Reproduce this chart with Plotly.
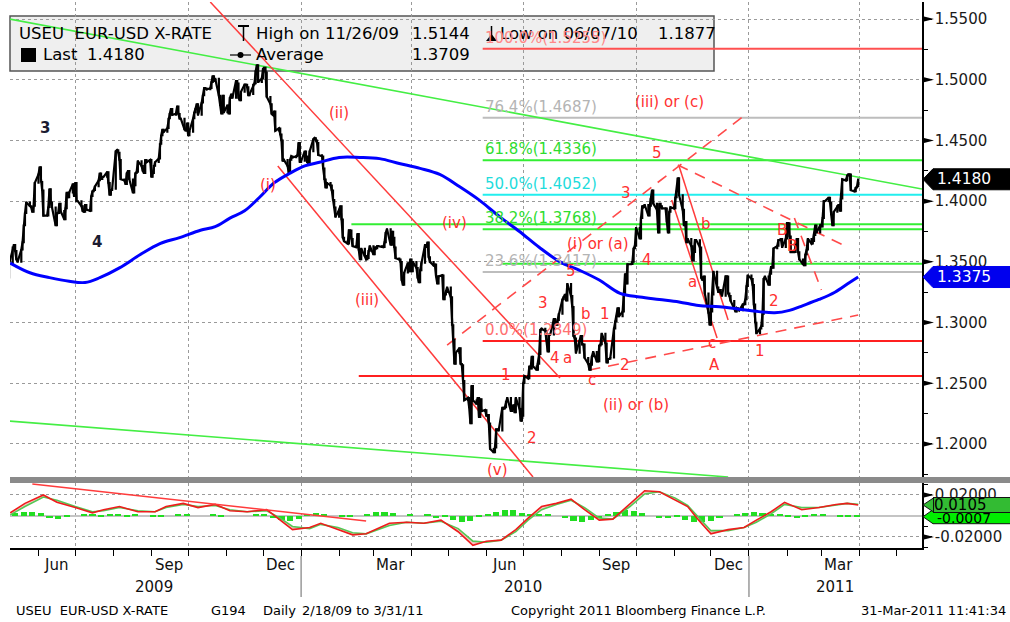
import pandas as pd
import plotly.graph_objects as go

# ---------------------------------------------------------------- data
first_monday = "2009-05-04"
weekly_closes = [
    [1.3330, 1.3360, 1.3310, 1.3370, 1.3480],
    [1.3620, 1.3640, 1.3590, 1.3520, 1.3500],
    [1.3600, 1.3660, 1.3800, 1.3900, 1.3990],
    [1.3960, 1.3950, 1.3910, 1.3960, 1.4150],
    [1.4220, 1.4280, 1.4160, 1.4090, 1.3880],
    [1.3880, 1.3950, 1.4100, 1.3990, 1.3950],
    [1.3800, 1.3900, 1.3900, 1.3980, 1.3920],
    [1.3850, 1.3940, 1.4070, 1.4030, 1.4070],
    [1.4140, 1.4040, 1.4150, 1.4000, 1.4000],
    [1.3960, 1.3920, 1.3910, 1.3970, 1.3930],
    [1.3920, 1.4040, 1.4080, 1.4090, 1.4120],
    [1.4170, 1.4230, 1.4180, 1.4200, 1.4200],
    [1.4240, 1.4150, 1.4050, 1.4090, 1.4100],
    [1.4410, 1.4420, 1.4400, 1.4340, 1.4180],
    [1.4170, 1.4140, 1.4230, 1.4250, 1.4180],
    [1.4070, 1.4130, 1.4230, 1.4240, 1.4330],
    [1.4290, 1.4250, 1.4230, 1.4340, 1.4320],
    [1.4340, 1.4200, 1.4230, 1.4290, 1.4320],
    [1.4350, 1.4470, 1.4540, 1.4590, 1.4570],
    [1.4600, 1.4680, 1.4720, 1.4760, 1.4710],
    [1.4720, 1.4780, 1.4720, 1.4680, 1.4680],
    [1.4590, 1.4580, 1.4640, 1.4540, 1.4570],
    [1.4680, 1.4730, 1.4760, 1.4800, 1.4710],
    [1.4810, 1.4870, 1.4930, 1.4930, 1.4920],
    [1.4930, 1.4980, 1.5030, 1.4990, 1.5010],
    [1.4870, 1.4790, 1.4720, 1.4870, 1.4730],
    [1.4790, 1.4720, 1.4850, 1.4880, 1.4850],
    [1.4990, 1.4970, 1.4850, 1.4830, 1.4900],
    [1.4960, 1.4960, 1.4940, 1.4870, 1.4880],
    [1.4960, 1.4970, 1.5070, 1.5120, 1.4980],
    [1.5010, 1.5090, 1.5100, 1.5060, 1.4860],
    [1.4800, 1.4720, 1.4710, 1.4740, 1.4580],
    [1.4600, 1.4550, 1.4500, 1.4330, 1.4340],
    [1.4290, 1.4230, 1.4340, 1.4370, 1.4360],
    [1.4370, 1.4380, 1.4480, 1.4320, 1.4330],
    [1.4410, 1.4370, 1.4320, 1.4310, 1.4410],
    [1.4510, 1.4520, 1.4500, 1.4480, 1.4380],
    [1.4370, 1.4270, 1.4180, 1.4110, 1.4150],
    [1.4130, 1.4090, 1.4010, 1.3950, 1.3870],
    [1.3930, 1.3960, 1.3850, 1.3700, 1.3670],
    [1.3650, 1.3760, 1.3760, 1.3690, 1.3630],
    [1.3620, 1.3730, 1.3600, 1.3520, 1.3610],
    [1.3550, 1.3520, 1.3530, 1.3590, 1.3630],
    [1.3560, 1.3620, 1.3610, 1.3630, 1.3630],
    [1.3620, 1.3620, 1.3660, 1.3740, 1.3770],
    [1.3640, 1.3750, 1.3700, 1.3620, 1.3530],
    [1.3520, 1.3500, 1.3350, 1.3310, 1.3410],
    [1.3490, 1.3420, 1.3520, 1.3420, 1.3500],
    [1.3450, 1.3370, 1.3330, 1.3430, 1.3490],
    [1.3640, 1.3620, 1.3660, 1.3540, 1.3500],
    [1.3470, 1.3480, 1.3380, 1.3320, 1.3380],
    [1.3390, 1.3190, 1.3230, 1.3250, 1.3290],
    [1.3210, 1.2980, 1.2860, 1.2660, 1.2750],
    [1.2790, 1.2660, 1.2650, 1.2520, 1.2360],
    [1.2380, 1.2300, 1.2170, 1.2480, 1.2360],
    [1.2330, 1.2380, 1.2220, 1.2370, 1.2270],
    [1.2280, 1.2230, 1.2240, 1.2170, 1.1960],
    [1.1930, 1.1970, 1.2120, 1.2120, 1.2110],
    [1.2300, 1.2290, 1.2300, 1.2350, 1.2380],
    [1.2270, 1.2300, 1.2320, 1.2260, 1.2380],
    [1.2290, 1.2190, 1.2230, 1.2500, 1.2560],
    [1.2540, 1.2640, 1.2620, 1.2720, 1.2640],
    [1.2610, 1.2660, 1.2740, 1.2940, 1.2950],
    [1.2930, 1.2860, 1.2760, 1.2900, 1.2900],
    [1.3030, 1.3000, 1.2980, 1.3020, 1.3070],
    [1.3190, 1.3210, 1.3230, 1.3180, 1.3320],
    [1.3220, 1.3130, 1.2890, 1.2870, 1.2750],
    [1.2850, 1.2890, 1.2820, 1.2820, 1.2710],
    [1.2660, 1.2610, 1.2650, 1.2720, 1.2760],
    [1.2680, 1.2680, 1.2810, 1.2820, 1.2910],
    [1.2830, 1.2670, 1.2700, 1.2700, 1.2710],
    [1.2950, 1.3010, 1.3050, 1.3120, 1.3050],
    [1.3090, 1.3230, 1.3400, 1.3320, 1.3480],
    [1.3480, 1.3500, 1.3610, 1.3630, 1.3780],
    [1.3690, 1.3860, 1.3960, 1.3950, 1.3970],
    [1.3880, 1.3960, 1.4020, 1.4090, 1.3980],
    [1.3930, 1.3740, 1.3980, 1.3960, 1.3940],
    [1.3940, 1.3830, 1.3740, 1.3910, 1.3950],
    [1.3940, 1.4030, 1.4080, 1.4190, 1.4050],
    [1.3930, 1.3800, 1.3830, 1.3660, 1.3690],
    [1.3630, 1.3510, 1.3580, 1.3680, 1.3680],
    [1.3620, 1.3370, 1.3350, 1.3380, 1.3240],
    [1.3080, 1.2980, 1.3090, 1.3230, 1.3420],
    [1.3290, 1.3250, 1.3270, 1.3240, 1.3220],
    [1.3380, 1.3380, 1.3240, 1.3220, 1.3180],
    [1.3120, 1.3090, 1.3120, 1.3110, 1.3100],
    [1.3150, 1.3150, 1.3190, 1.3300, 1.3390],
    [1.3360, 1.3310, 1.3150, 1.3000, 1.2910],
    [1.2950, 1.2970, 1.3070, 1.3360, 1.3380],
    [1.3310, 1.3400, 1.3460, 1.3450, 1.3610],
    [1.3630, 1.3680, 1.3680, 1.3690, 1.3620],
    [1.3690, 1.3820, 1.3820, 1.3710, 1.3580],
    [1.3580, 1.3650, 1.3690, 1.3580, 1.3520],
    [1.3480, 1.3470, 1.3560, 1.3600, 1.3690],
    [1.3650, 1.3670, 1.3720, 1.3800, 1.3740],
    [1.3800, 1.3790, 1.3860, 1.4000, 1.4000],
    [1.4030, 1.3990, 1.3890, 1.3800, 1.3910],
    [1.3960, 1.3970, 1.3920, 1.4020, 1.4180],
    [1.4170, 1.4210, 1.4220, 1.4220, 1.4090],
    [1.4080, 1.4110, 1.4120, 1.4180],
]

ma_dates = ["2009-05-09", "2009-05-25", "2009-06-10", "2009-06-26", "2009-07-09",
             "2009-07-21", "2009-08-06", "2009-08-23", "2009-09-08", "2009-09-24",
             "2009-10-11", "2009-10-23", "2009-11-04", "2009-11-16", "2009-11-28",
             "2009-12-10", "2009-12-23", "2010-01-04", "2010-01-16", "2010-02-01",
             "2010-02-18", "2010-03-06", "2010-03-22", "2010-04-08", "2010-04-24",
             "2010-05-10", "2010-05-26", "2010-06-12", "2010-06-28", "2010-07-14",
             "2010-07-31", "2010-08-16", "2010-09-01", "2010-09-18", "2010-10-04",
             "2010-10-20", "2010-11-05", "2010-11-21", "2010-12-08", "2010-12-24",
             "2011-01-09", "2011-01-22", "2011-02-03", "2011-02-14", "2011-02-27",
             "2011-03-12", "2011-03-24", "2011-03-31"]
ma_values = [1.349, 1.341, 1.337, 1.334, 1.333,
             1.337, 1.345, 1.356, 1.365, 1.370,
             1.376, 1.379, 1.386, 1.392, 1.403,
             1.415, 1.423, 1.429, 1.432, 1.436,
             1.436, 1.435, 1.431, 1.427, 1.422,
             1.412, 1.401, 1.387, 1.375, 1.362,
             1.350, 1.343, 1.335, 1.324, 1.321,
             1.319, 1.317, 1.314, 1.313, 1.311,
             1.309, 1.308, 1.310, 1.314, 1.319,
             1.325, 1.333, 1.3375]

osc_dates = ["2009-05-09", "2009-05-21", "2009-06-05", "2009-06-16", "2009-07-01",
             "2009-07-15", "2009-07-24", "2009-08-06", "2009-08-21", "2009-09-04",
             "2009-09-13", "2009-09-27", "2009-10-09", "2009-10-23", "2009-11-04",
             "2009-11-18", "2009-12-04", "2009-12-15", "2009-12-25", "2010-01-08",
             "2010-01-17", "2010-01-31", "2010-02-12", "2010-02-23", "2010-03-14",
             "2010-03-28", "2010-04-11", "2010-04-25", "2010-05-09", "2010-05-21",
             "2010-06-01", "2010-06-13", "2010-06-25", "2010-07-05", "2010-07-16",
             "2010-07-28", "2010-08-09", "2010-08-20", "2010-09-01", "2010-09-12",
             "2010-09-26", "2010-10-08", "2010-10-20", "2010-11-02", "2010-11-12",
             "2010-11-21", "2010-12-01", "2010-12-15", "2010-12-28", "2011-01-07",
             "2011-01-19", "2011-01-30", "2011-02-13", "2011-02-27", "2011-03-13",
             "2011-03-22", "2011-03-31"]
osc_macd = [0.003, 0.012, 0.020, 0.013, 0.008, 0.003, 0.006, 0.009, 0.004, 0.004,
            0.009, 0.012, 0.008, 0.011, 0.005, 0.004, 0.006, -0.004, -0.013, -0.011,
            -0.007, -0.013, -0.018, -0.017, -0.007, -0.006, -0.007, -0.004, -0.015, -0.028,
            -0.024, -0.023, -0.013, -0.002, 0.009, 0.012, 0.016, 0.006, -0.004, -0.003,
            0.012, 0.024, 0.023, 0.015, 0.009, -0.004, -0.017, -0.013, -0.011, -0.004,
            0.004, 0.013, 0.006, 0.008, 0.011, 0.012, 0.0105]
osc_signal = [0.001, 0.009, 0.018, 0.015, 0.009, 0.004, 0.005, 0.008, 0.005, 0.004,
              0.008, 0.011, 0.009, 0.010, 0.006, 0.004, 0.005, -0.002, -0.010, -0.012,
              -0.008, -0.011, -0.016, -0.017, -0.009, -0.006, -0.007, -0.005, -0.012, -0.024,
              -0.025, -0.023, -0.015, -0.004, 0.006, 0.011, 0.015, 0.008, -0.002, -0.003,
              0.009, 0.021, 0.023, 0.017, 0.010, -0.001, -0.014, -0.014, -0.011, -0.006,
              0.002, 0.011, 0.008, 0.008, 0.010, 0.012, 0.0112]
hist_values = [0.000, 0.003, 0.004, 0.004, 0.003, -0.002, -0.003, -0.001, 0.000, 0.002,
               0.002, -0.001, 0.001, 0.001, -0.001, 0.001, 0.000, -0.001, -0.001, 0.000,
               0.001, 0.001, 0.000, 0.000, 0.001, -0.001, 0.000, 0.000, 0.000, 0.001,
               0.002, -0.002, -0.004, -0.005, -0.003, 0.001, 0.003, 0.002, 0.000, -0.001,
               -0.001, 0.000, 0.001, 0.004, 0.004, 0.003, 0.000, 0.001, 0.000, 0.002,
               -0.002, -0.001, -0.004, -0.006, -0.005, -0.001, 0.001, 0.004, 0.006, 0.006,
               0.003, 0.001, 0.002, 0.002, 0.000, -0.002, -0.005, -0.006, -0.004, -0.002,
               0.001, 0.004, 0.006, 0.005, 0.003, 0.000, -0.002, -0.002, -0.001, -0.004,
               -0.006, -0.006, -0.005, -0.002, 0.000, 0.001, 0.003, 0.004, 0.003, 0.001,
               0.002, -0.001, -0.002, -0.001, 0.002, 0.001, 0.000, -0.001, -0.001, -0.0007]

fib_levels = [1.5255, 1.4687, 1.4336, 1.4052, 1.3768, 1.3417, 1.2849]
fib_labels = ["100.0%(1.5255)", "76.4%(1.4687)", "61.8%(1.4336)", "50.0%(1.4052)",
              "38.2%(1.3768)", "23.6%(1.3417)", "0.0%(1.2849)"]
fib_from = "2010-05-29"

extra_levels = [1.3810, 1.3485, 1.2560]
extra_from = ["2010-02-11", "2010-06-14", "2010-02-17"]

green_trends = [("2009-05-08", 1.5500, "2011-05-22", 1.4100),
                ("2009-05-08", 1.2189, "2010-12-15", 1.1728)]
red_trends = [("2009-10-19", 1.5640, "2010-07-31", 1.2544),
              ("2009-12-13", 1.4289, "2010-07-09", 1.1728),
              ("2010-10-30", 1.4009, "2010-12-06", 1.2873),
              ("2010-11-05", 1.4289, "2010-12-15", 1.3021)]
red_dashed = [("2010-04-30", 1.2815, "2010-12-31", 1.4726),
              ("2010-11-04", 1.4298, "2011-03-22", 1.3622),
              ("2011-02-07", 1.3861, "2011-03-01", 1.3268),
              ("2010-08-24", 1.2609, "2011-03-31", 1.3062)]
osc_trend = [("2009-05-27", 0.0305, "2010-02-23", -0.0048)]

wave_text = ["(ii)", "(i)", "(iii)", "(iv)", "(v)", "(i) or (a)", "(iii) or (c)", "(ii) or (b)",
             "5", "3", "4", "5", "3", "b", "1", "4", "a", "c", "2", "1", "2",
             "b", "a", "c", "A", "1", "2", "B", "B"]
wave_dates = ["2010-02-01", "2009-12-05", "2010-02-24", "2010-05-06", "2010-06-10",
              "2010-08-31", "2010-10-28", "2010-10-01",
              "2010-10-18", "2010-09-23", "2010-10-10", "2010-08-09", "2010-07-17",
              "2010-08-21", "2010-09-06", "2010-07-27", "2010-08-06", "2010-08-26",
              "2010-09-22", "2010-06-17", "2010-07-08",
              "2010-11-27", "2010-11-16", "2010-12-02", "2010-12-04", "2011-01-10",
              "2011-01-21", "2011-01-28", "2011-02-05"]
wave_prices = [1.4726, 1.4133, 1.3186, 1.3820, 1.1786, 1.3647, 1.4817, 1.2321,
               1.4397, 1.4067, 1.3515, 1.3425, 1.3161, 1.3071, 1.3071, 1.2708, 1.2708,
               1.2527, 1.2651, 1.2568, 1.2049,
               1.3812, 1.3334, 1.2832, 1.2651, 1.2766, 1.3178, 1.3762, 1.3631]
count_text = ["3", "4"]
count_dates = ["2009-06-06", "2009-07-19"]
count_prices = [1.4602, 1.3664]

price_ticks = [1.20, 1.25, 1.30, 1.35, 1.40, 1.45, 1.50, 1.55]
osc_ticks = [-0.02, 0.02]
quarter_starts = ["2009-07-01", "2009-10-01", "2010-01-01", "2010-04-01",
                  "2010-07-01", "2010-10-01", "2011-01-01", "2011-04-01"]
month_labels = ["Jun", "Sep", "Dec", "Mar", "Jun", "Sep", "Dec", "Mar"]
month_label_dates = ["2009-06-15", "2009-09-15", "2009-12-15", "2010-03-15",
                     "2010-06-15", "2010-09-15", "2010-12-15", "2011-03-15"]
year_labels = ["2009", "2010", "2011"]
year_label_dates = ["2009-09-03", "2010-07-01", "2011-03-12"]
year_breaks = ["2010-01-01", "2011-01-01"]

last_price = 1.4180
ma_last = 1.3375
osc_last = 0.0105
hist_last = -0.0007
high_value, high_date = 1.5144, "11/26/09"
low_value, low_date = 1.1877, "06/07/10"
avg_value = 1.3709

x_range = ["2009-05-08 19:00", "2011-05-22"]
price_range = [1.1728, 1.5640]
osc_range = [-0.0305, 0.0314]

# ---------------------------------------------------------------- build
dates, closes = [], []
mondays = pd.date_range(first_monday, periods=len(weekly_closes), freq="7D")
for mon, wk in zip(mondays, weekly_closes):
    for j, c in enumerate(wk):
        dates.append(mon + pd.Timedelta(days=j))
        closes.append(c)
opens = [closes[0]] + closes[:-1]
highs = [max(o, c) for o, c in zip(opens, closes)]
lows = [min(o, c) for o, c in zip(opens, closes)]
hist_dates = [m + pd.Timedelta(days=2) for m in mondays]

W, H = 1010, 622
L, R, T, B = 10, 88, 2, 74
def px(x):
    return (x - L) / (W - L - R)
def py(y):
    return (H - B - y) / (H - T - B)

FONT = "DejaVu Sans"
RED = "#ff3030"

fig = go.Figure()

fig.add_trace(go.Scatter(x=dates, y=closes, mode="lines",
                         line=dict(color="black", width=2.2),
                         hoverinfo="skip", showlegend=False, xaxis="x", yaxis="y"))
fig.add_trace(go.Candlestick(
    x=dates, open=opens, high=highs, low=lows, close=closes,
    increasing=dict(line=dict(color="black", width=1.6), fillcolor="white"),
    decreasing=dict(line=dict(color="black", width=1.6), fillcolor="black"),
    whiskerwidth=0, hoverinfo="skip", showlegend=False, xaxis="x", yaxis="y"))

fig.add_trace(go.Scatter(x=ma_dates, y=ma_values, mode="lines",
                         line=dict(color="#0000ff", width=3, shape="spline", smoothing=1.0),
                         hoverinfo="skip", showlegend=False, xaxis="x", yaxis="y"))

# lower panel
fig.add_trace(go.Bar(x=hist_dates, y=hist_values, marker=dict(color="#22dd22", line=dict(width=0)),
                     width=5 * 86400000, hoverinfo="skip", showlegend=False,
                     xaxis="x", yaxis="y2"))
fig.add_trace(go.Scatter(x=osc_dates, y=osc_signal, mode="lines",
                         line=dict(color="#55c855", width=1.6),
                         hoverinfo="skip", showlegend=False, xaxis="x", yaxis="y2"))
fig.add_trace(go.Scatter(x=osc_dates, y=osc_macd, mode="lines", fill="tonexty",
                         fillcolor="rgba(240,120,120,0.45)",
                         line=dict(color="#ee1c1c", width=1.6),
                         hoverinfo="skip", showlegend=False, xaxis="x", yaxis="y2"))

shapes = []
# legend box (between grid and traces)
shapes.append(dict(type="rect", xref="paper", yref="paper", layer="between",
                   x0=px(10), x1=px(714), y0=py(71), y1=py(16),
                   fillcolor="#efefef", line=dict(color="#555555", width=1.5)))

fib_line_colors = ["#ff5050", "#bdbdbd", "#33ee33", "#22eeee", "#33ee33", "#bdbdbd", "#ff2020"]
fib_text_colors = ["#ff8888", "#b4b4b4", "#2fdc2f", "#1fdcdc", "#2fdc2f", "#b4b4b4", "#ff7070"]
for lv, col in zip(fib_levels, fib_line_colors):
    shapes.append(dict(type="line", xref="x", yref="y", layer="between",
                       x0=fib_from, x1=x_range[1], y0=lv, y1=lv,
                       line=dict(color=col, width=2)))
extra_colors = ["#33ee33", "#33ee33", "#ff2020"]
for lv, st, col in zip(extra_levels, extra_from, extra_colors):
    shapes.append(dict(type="line", xref="x", yref="y", layer="between",
                       x0=st, x1=x_range[1], y0=lv, y1=lv,
                       line=dict(color=col, width=2)))
for d0, p0, d1, p1 in green_trends:
    shapes.append(dict(type="line", xref="x", yref="y", layer="between",
                       x0=d0, x1=d1, y0=p0, y1=p1, line=dict(color="#44ee44", width=1.6)))
for d0, p0, d1, p1 in red_trends:
    shapes.append(dict(type="line", xref="x", yref="y", layer="between",
                       x0=d0, x1=d1, y0=p0, y1=p1, line=dict(color="#ff3b3b", width=1.5)))
for d0, p0, d1, p1 in red_dashed:
    shapes.append(dict(type="line", xref="x", yref="y", layer="between",
                       x0=d0, x1=d1, y0=p0, y1=p1,
                       line=dict(color="#ff4a4a", width=1.6, dash="11px,8px")))
for d0, p0, d1, p1 in osc_trend:
    shapes.append(dict(type="line", xref="x", yref="y2", layer="above",
                       x0=d0, x1=d1, y0=p0, y1=p1, line=dict(color="#ff3b3b", width=1.6)))

# separator bar between panels
shapes.append(dict(type="rect", xref="paper", yref="paper", layer="above",
                   x0=px(10), x1=px(1010), y0=py(483), y1=py(477),
                   fillcolor="#8a8a8a", line=dict(width=0)))
# year separators
for yb in year_breaks:
    shapes.append(dict(type="line", xref="x", yref="paper", x0=yb, x1=yb,
                       y0=py(597), y1=py(556), line=dict(color="#666666", width=1)))

# tick triangles
ph = 3.0 * (price_range[1] - price_range[0]) / (477 - 2)
for v in price_ticks:
    shapes.append(dict(type="path", xref="paper", yref="y", layer="above",
                       path=f"M 1,{v + ph} L {px(934)},{v} L 1,{v - ph} Z",
                       fillcolor="black", line=dict(width=0)))
oh = 3.0 * (osc_range[1] - osc_range[0]) / (548 - 483)
for v in osc_ticks:
    shapes.append(dict(type="path", xref="paper", yref="y2", layer="above",
                       path=f"M 1,{v + oh} L {px(934)},{v} L 1,{v - oh} Z",
                       fillcolor="black", line=dict(width=0)))

# value boxes on the right axis
def value_box(v, yref, half, fill, border):
    return dict(type="path", xref="paper", yref=yref, layer="above",
                path=(f"M {px(923)},{v} L {px(933)},{v + half} L {px(1012)},{v + half} "
                      f"L {px(1012)},{v - half} L {px(933)},{v - half} Z"),
                fillcolor=fill, line=dict(color=border, width=1))
pbh = 10.5 * (price_range[1] - price_range[0]) / (477 - 2)
obh = 7.0 * (osc_range[1] - osc_range[0]) / (548 - 483)
shapes.append(value_box(last_price, "y", pbh, "black", "black"))
shapes.append(value_box(ma_last, "y", pbh, "#0000ee", "#0000ee"))
shapes.append(value_box(hist_last, "y2", obh, "#00ee00", "#111111"))
# arrow tip of the upper lower-panel box
shapes.append(dict(type="path", xref="paper", yref="y2", layer="above",
                   path=(f"M {px(923)},{osc_last} L {px(933.5)},{osc_last + obh} "
                         f"L {px(933.5)},{osc_last - obh} Z"),
                   fillcolor="#33bb33", line=dict(color="#111111", width=1)))

# legend symbols
shapes.append(dict(type="rect", xref="paper", yref="paper", x0=px(21), x1=px(36),
                   y0=py(62), y1=py(48), fillcolor="black", line=dict(width=0)))
shapes.append(dict(type="line", xref="paper", yref="paper", x0=px(238), x1=px(249),
                   y0=py(26), y1=py(26), line=dict(color="black", width=2)))
shapes.append(dict(type="line", xref="paper", yref="paper", x0=px(243.5), x1=px(243.5),
                   y0=py(26), y1=py(41), line=dict(color="black", width=1.5)))
shapes.append(dict(type="line", xref="paper", yref="paper", x0=px(491.5), x1=px(491.5),
                   y0=py(26), y1=py(40), line=dict(color="black", width=1.5)))
shapes.append(dict(type="path", xref="paper", yref="paper",
                   path=f"M {px(486)},{py(41)} L {px(491.5)},{py(34)} L {px(497)},{py(41)} Z",
                   fillcolor="black", line=dict(width=0)))
shapes.append(dict(type="line", xref="paper", yref="paper", x0=px(230), x1=px(251),
                   y0=py(55), y1=py(55), line=dict(color="black", width=1.2)))
shapes.append(dict(type="circle", xref="paper", yref="paper", x0=px(237.5), x1=px(243.5),
                   y0=py(58), y1=py(52), fillcolor="black", line=dict(width=0)))

ann = []
def txt(x, y, s, size=15, color="black", xanchor="left", yanchor="middle", xref="paper",
        yref="paper", family=FONT):
    ann.append(dict(x=x, y=y, xref=xref, yref=yref, text=s, showarrow=False, xanchor=xanchor,
                    yanchor=yanchor, font=dict(family=family, size=size, color=color)))

# legend texts
txt(px(17), py(33), "USEU\u00a0\u00a0EUR-USD X-RATE", 16.5)
txt(px(254), py(33), f"High on {high_date}", 16.5)
txt(px(410), py(33), f"{high_value:.4f}", 16.5)
txt(px(498), py(33), f"Low on {low_date}", 16.5)
txt(px(656), py(33), f"{low_value:.4f}", 16.5)
txt(px(41), py(55), "Last", 16.5)
txt(px(85), py(55), f"{last_price:.4f}", 16.5)
txt(px(254), py(55), "Average", 16.5)
txt(px(410), py(55), f"{avg_value:.4f}", 16.5)

# fib labels
for lv, lab, col in zip(fib_levels, fib_labels, fib_text_colors):
    txt(fib_from, lv, lab, 15, col, "left", "bottom", "x", "y")

# wave labels
for s, d, p in zip(wave_text, wave_dates, wave_prices):
    txt(d, p, s, 15, RED, "center", "middle", "x", "y")
for s, d, p in zip(count_text, count_dates, count_prices):
    txt(d, p, f"<b>{s}</b>", 15, "#1b1b30", "center", "middle", "x", "y")

# value box texts
txt(px(935), last_price, f"{last_price:.4f}", 15.5, "white", "left", "middle", "paper", "y")
txt(px(935), ma_last, f"{ma_last:.4f}", 15.5, "white", "left", "middle", "paper", "y")
txt(px(935), hist_last - 0.0012, f"{hist_last:.4f}", 14, "black", "left", "middle", "paper", "y2")
# upper lower-panel box as an annotation so it covers the one beneath
ann.append(dict(x=px(933), y=osc_last, xref="paper", yref="y2", text=f"{osc_last:.4f}",
                showarrow=False, xanchor="left", yanchor="middle", bgcolor="#33bb33",
                bordercolor="#111111", borderwidth=1, borderpad=0, width=78, height=14,
                align="left", font=dict(family=FONT, size=15, color="black")))

# month / year labels
for d, s in zip(month_label_dates, month_labels):
    txt(d, py(565), s, 15, "#111111", "center", "middle", "x", "paper")
for d, s in zip(year_label_dates, year_labels):
    txt(d, py(587), s, 15, "#111111", "center", "middle", "x", "paper")

# footer
fy = py(610)
txt(px(14), fy, "USEU\u00a0\u00a0EUR-USD X-RATE", 13)
txt(px(209), fy, "G194", 13)
txt(px(261), fy, "Daily", 13)
txt(px(300), fy, "2/18/09 to 3/31/11", 13)
txt(px(509), fy, "Copyright 2011 Bloomberg Finance L.P.", 13)
txt(px(1008), fy, "31-Mar-2011 11:41:34", 13, "black", "right")

fig.update_layout(
    width=W, height=H, autosize=False,
    margin=dict(l=L, r=R, t=T, b=B, pad=0),
    paper_bgcolor="white", plot_bgcolor="white",
    font=dict(family=FONT, size=15, color="#1a1a1a"),
    showlegend=False, bargap=0,
    xaxis=dict(type="date", range=x_range, domain=[0, 1], anchor="y2",
               rangeslider=dict(visible=False),
               tickmode="array", tickvals=quarter_starts, ticktext=[""] * len(quarter_starts),
               ticks="outside", ticklen=6, tickcolor="black",
               showgrid=True, gridcolor="#9a9a9a", griddash="dot", gridwidth=1,
               minor=dict(dtick="M1", tick0="2009-01-01", ticks="outside", ticklen=6,
                          tickcolor="black", showgrid=False),
               showline=True, linecolor="black", linewidth=1.5, zeroline=False),
    yaxis=dict(domain=[py(477), 1], range=price_range, side="right", anchor="x",
               tickmode="array", tickvals=price_ticks,
               ticktext=[f"{v:.4f}" for v in price_ticks],
               ticks="outside", ticklen=8, tickcolor="black",
               tickfont=dict(family=FONT, size=15, color="#1a1a1a"),
               showgrid=True, gridcolor="#9a9a9a", griddash="dot", gridwidth=1,
               minor=dict(tickmode="linear", tick0=1.2, dtick=0.025, ticks="outside",
                          ticklen=4, tickcolor="black", showgrid=False),
               showline=True, linecolor="black", linewidth=1.5, zeroline=False),
    yaxis2=dict(domain=[0, py(483)], range=osc_range, side="right", anchor="x",
                tickmode="array", tickvals=osc_ticks,
                ticktext=[f"{v:.5f}" for v in osc_ticks],
                ticks="outside", ticklen=8, tickcolor="black",
                tickfont=dict(family=FONT, size=15, color="#1a1a1a"),
                showgrid=True, gridcolor="#9a9a9a", griddash="dot", gridwidth=1,
                zeroline=True, zerolinecolor="#c4c4c4", zerolinewidth=2,
                minor=dict(tickmode="linear", tick0=0, dtick=0.01, ticks="outside",
                           ticklen=4, tickcolor="black", showgrid=False),
                showline=True, linecolor="black", linewidth=1.5),
    shapes=shapes, annotations=ann,
)

fig.write_html("out.html", config=dict(displayModeBar=False),
               post_script="document.body.style.margin='0';document.body.style.padding='0';"
                           "document.body.style.overflow='hidden';")
